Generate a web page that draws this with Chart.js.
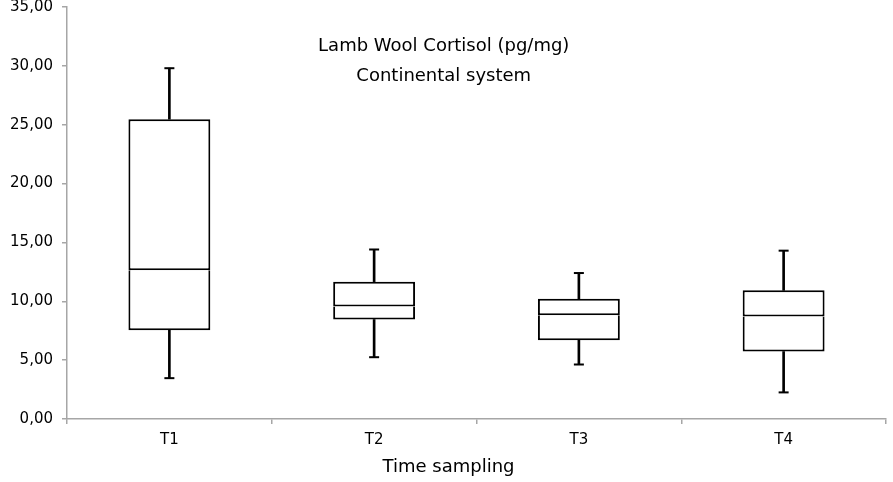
<!DOCTYPE html>
<html>
<head>
<meta charset="utf-8">
<script src="https://cdn.jsdelivr.net/npm/chart.js@4.4.1/dist/chart.umd.min.js"></script>
<style>
  html, body { margin: 0; padding: 0; background: #fff; }
  #wrap { width: 893px; height: 482px; position: relative; }
</style>
</head>
<body>
<div id="wrap"><canvas id="c"></canvas></div>
<script>
const categories = ['T1', 'T2', 'T3', 'T4'];
const mins    = [3.47, 5.25, 4.63, 2.26];
const q1s     = [7.54, 8.45, 6.69, 5.73];
const medians = [12.63, 9.55, 8.81, 8.70];
const q3s     = [25.47, 11.67, 10.22, 10.93];
const maxs    = [29.80, 14.40, 12.40, 14.30];
const yTicks  = [0, 5, 10, 15, 20, 25, 30, 35];
const titleLines = ['Lamb Wool Cortisol (pg/mg)', 'Continental system'];
const xTitle = 'Time sampling';

const FONT = 'DejaVu Sans';
const AXIS = '#a6a6a6';

const lowerBox = categories.map((c, i) => [q1s[i], medians[i]]);
const upperBox = categories.map((c, i) => [medians[i], q3s[i]]);
const lowerWhisker = categories.map((c, i) => [mins[i], q1s[i]]);
const upperWhisker = categories.map((c, i) => [q3s[i], maxs[i]]);

const boxStyle = {
  type: 'bar', grouped: false, backgroundColor: '#ffffff', borderColor: '#000000',
  borderWidth: 2, barPercentage: 0.4, categoryPercentage: 1.0, order: 1
};
const whiskerStyle = {
  type: 'bar', grouped: false, backgroundColor: '#000000', borderWidth: 0,
  barThickness: 2, order: 2
};
const capStyle = {
  type: 'line', showLine: false, pointStyle: 'line', pointRadius: 5, pointHoverRadius: 5,
  borderColor: '#000000', borderWidth: 2, order: 0
};

const textPlugin = {
  id: 'innerText',
  afterDraw(chart) {
    const { ctx, chartArea } = chart;
    const x = chartArea.left + (chartArea.right - chartArea.left) * 0.46;
    ctx.save();
    ctx.fillStyle = '#000';
    ctx.font = '18px "' + FONT + '"';
    ctx.textAlign = 'center';
    ctx.textBaseline = 'middle';
    ctx.fillText(titleLines[0], x, chartArea.top + 39);
    ctx.fillText(titleLines[1], x, chartArea.top + 69);
    ctx.fillText(xTitle, chart.width / 2 + 2, chartArea.bottom + 48);
    ctx.restore();
  }
};

new Chart(document.getElementById('c'), {
  data: {
    labels: categories,
    datasets: [
      Object.assign({ data: upperWhisker }, whiskerStyle),
      Object.assign({ data: lowerWhisker }, whiskerStyle),
      Object.assign({ data: lowerBox, borderSkipped: 'top' }, boxStyle),
      Object.assign({ data: upperBox, borderSkipped: false }, boxStyle),
      Object.assign({ data: maxs }, capStyle),
      Object.assign({ data: mins }, capStyle)
    ]
  },
  options: {
    responsive: true,
    maintainAspectRatio: false,
    animation: false,
    layout: { padding: { top: 0, right: 2, bottom: 0, left: 0 } },
    plugins: { legend: { display: false }, tooltip: { enabled: false }, title: { display: false } },
    scales: {
      x: {
        type: 'category',
        offset: true,
        grid: { display: true, drawOnChartArea: false, offset: true, color: AXIS, tickLength: 5, lineWidth: 1.5 },
        border: { display: true, color: AXIS, width: 1.5 },
        ticks: { color: '#000', font: { family: FONT, size: 15 }, padding: 7 },
        afterFit(scale) { scale.height = 63; }
      },
      y: {
        min: 0, max: 35,
        afterBuildTicks(scale) { scale.ticks = yTicks.map(v => ({ value: v })); },
        grid: { display: true, drawOnChartArea: false, color: AXIS, tickLength: 5, lineWidth: 1.5 },
        border: { display: true, color: AXIS, width: 1.5 },
        ticks: {
          color: '#000', font: { family: FONT, size: 15 }, padding: 9,
          callback: (v) => Number(v).toFixed(2).replace('.', ',')
        },
        afterFit(scale) { scale.width = 67; scale.paddingTop = 6; }
      }
    }
  },
  plugins: [textPlugin]
});
</script>
</body>
</html>
